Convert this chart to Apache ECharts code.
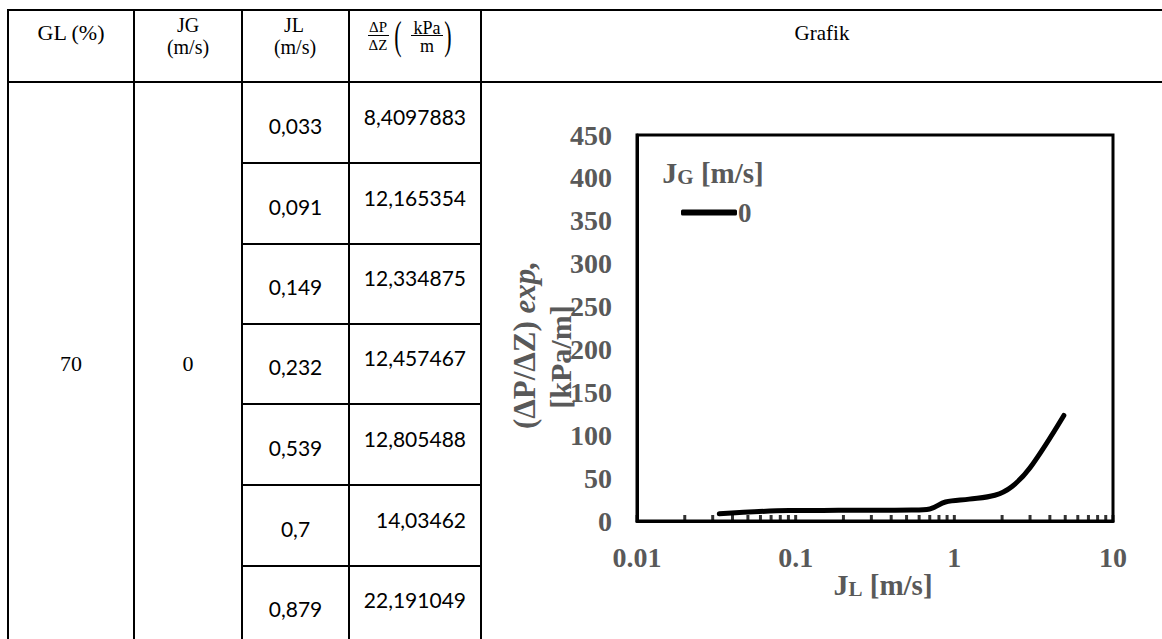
<!DOCTYPE html>
<html>
<head>
<meta charset="utf-8">
<script src="https://cdn.jsdelivr.net/npm/echarts@6/dist/echarts.min.js"></script>
<style>
  html, body { margin: 0; padding: 0; background: #fff; }
  #page { position: relative; width: 1162px; height: 639px; overflow: hidden; background: #fff; }
  .ln { position: absolute; background: #000; }
  .t { position: absolute; white-space: nowrap; line-height: 1; transform: translate(-50%, -50%); color: #000; }
  .tr { position: absolute; white-space: nowrap; line-height: 1; transform: translate(-100%, -50%); color: #000; }
  .serif { font-family: "Liberation Serif", "Times New Roman", serif; }
  .sans { font-family: Lato, "Open Sans", sans-serif; }
  #chart { position: absolute; left: 0; top: 0; width: 1162px; height: 639px; }
</style>
</head>
<body>
<div id="page">
  <div id="table"></div>
  <div id="chart"></div>
</div>
<script>
// Measurement series: liquid superficial velocity JL [m/s] and pressure gradient [kPa/m]
const glPercent = 70;
const jgValue = 0;
const jlValues = [0.033, 0.091, 0.149, 0.232, 0.539, 0.7, 0.879, 1.24, 1.8, 2.3, 3.0, 4.9];
const dpValues = [8.4097883, 12.165354, 12.334875, 12.457467, 12.805488, 14.03462, 22.191049, 25.5, 30, 40, 62, 123];
const tableRowCount = 7;

// Axis tick values
const yTickLabels = [0, 50, 100, 150, 200, 250, 300, 350, 400, 450];
const xTickValues = [
  0.01, 0.02, 0.03, 0.04, 0.05, 0.06, 0.07, 0.08, 0.09,
  0.1, 0.2, 0.3, 0.4, 0.5, 0.6, 0.7, 0.8, 0.9,
  1, 2, 3, 4, 5, 6, 7, 8, 9, 10
];
const seriesName = '0';

// ---------- table ----------
const table = document.getElementById('table');
const colX = [8, 134, 242, 349, 481];
const rowY = [82, 163, 244, 324, 404, 485, 566, 646];
const topY = 10;

function line(x, y, w, h) {
  const d = document.createElement('div');
  d.className = 'ln';
  d.style.left = x + 'px'; d.style.top = y + 'px';
  d.style.width = w + 'px'; d.style.height = h + 'px';
  table.appendChild(d);
}
function text(str, x, y, size, cls, extra) {
  const d = document.createElement('div');
  d.className = cls;
  d.textContent = str;
  d.style.left = x + 'px'; d.style.top = y + 'px';
  d.style.fontSize = size + 'px';
  if (extra) Object.assign(d.style, extra);
  table.appendChild(d);
  return d;
}

line(colX[0] - 1, topY - 1, 1162, 2);
line(colX[0] - 1, rowY[0] - 1, 1162, 2);
for (let i = 1; i < rowY.length; i++) line(colX[2] - 1, rowY[i] - 1, colX[4] - colX[2] + 1, 2);
colX.forEach(x => line(x - 1, topY - 1, 2, 700));

// header
text('GL (%)', 71, 33, 22, 't serif');
text('JG', 188, 25, 20, 't serif');
text('(m/s)', 188, 47, 20, 't serif');
text('JL', 294, 25, 20, 't serif');
text('(m/s)', 295, 47, 20, 't serif');
text('ΔP', 378, 27, 15, 't serif');
line(368, 35, 21, 1);
text('ΔZ', 378, 45, 15, 't serif');
text('(', 398, 36, 40, 't serif', { transform: 'translate(-50%,-50%) scaleX(0.55)' });
text('kPa', 427, 28, 18, 't serif');
line(411, 35, 32, 1);
text('m', 427, 46, 18, 't serif');
text(')', 448, 36, 40, 't serif', { transform: 'translate(-50%,-50%) scaleX(0.55)' });
text('Grafik', 822, 33, 21, 't serif');

// body
const bodyMid = (rowY[0] + rowY[rowY.length - 1]) / 2;
text(String(glPercent), 71, bodyMid, 22, 't serif');
text(String(jgValue), 188, bodyMid, 22, 't serif');
const fmt = v => String(v).replace('.', ',');
for (let i = 0; i < tableRowCount; i++) {
  const mid = (rowY[i] + rowY[i + 1]) / 2;
  text(fmt(jlValues[i]), 295.5, mid + 2, 21, 't sans');
  text(fmt(dpValues[i]), 466, mid - 7, 21, 'tr sans');
}

// ---------- chart ----------
const serif = '"Liberation Serif", "Times New Roman", serif';
const gray = '#595959';
const chart = echarts.init(document.getElementById('chart'), null, { renderer: 'svg' });

const seriesData = jlValues.map((x, i) => [x, dpValues[i]]);
const tickMarks = xTickValues.map(x => [x, 0]);

const titleRich = {
  j: { fontFamily: serif, fontWeight: 'bold', fontSize: 30, fill: gray, verticalAlign: 'bottom', lineHeight: 30 },
  s: { fontFamily: serif, fontWeight: 'bold', fontSize: 21, fill: gray, verticalAlign: 'bottom', lineHeight: 30 },
  n: { fontFamily: serif, fontWeight: 'bold', fontSize: 29, fill: gray, verticalAlign: 'bottom', lineHeight: 30 }
};

chart.setOption({
  animation: false,
  backgroundColor: 'transparent',
  grid: {
    left: 637, top: 135, width: 476, height: 386,
    show: true, borderColor: '#000', borderWidth: 3, backgroundColor: 'transparent'
  },
  legend: {
    data: [{ name: seriesName, icon: 'roundRect' }],
    left: 681, top: 199, padding: 0,
    itemWidth: 56, itemHeight: 6,
    selectedMode: false,
    textStyle: { fontFamily: serif, fontWeight: 'bold', fontSize: 27, color: gray, padding: [0, 0, 0, -4] }
  },
  xAxis: {
    type: 'log', logBase: 10, min: 0.01, max: 10,
    axisLine: { show: true, lineStyle: { color: '#000', width: 3 } },
    axisTick: { show: false },
    minorTick: { show: false },
    splitLine: { show: false },
    axisLabel: {
      showMinLabel: true, showMaxLabel: true,
      margin: 22,
      fontFamily: serif, fontWeight: 'bold', fontSize: 28, color: gray,
      formatter: v => String(Number(v.toPrecision(6)))
    }
  },
  yAxis: {
    type: 'value', min: 0, max: 450, interval: 50,
    axisLine: { show: true, lineStyle: { color: '#000', width: 3 } },
    axisTick: { show: false },
    splitLine: { show: false },
    axisLabel: {
      margin: 25,
      fontFamily: serif, fontWeight: 'bold', fontSize: 28, color: gray,
      formatter: v => (yTickLabels.includes(v) ? String(v) : '')
    }
  },
  graphic: [
    {
      type: 'text', x: 713, y: 172, z: 10,
      style: { text: '{j|J}{s|G}{n| [m/s]}', align: 'center', verticalAlign: 'middle', rich: titleRich }
    },
    {
      type: 'text', x: 883, y: 584, z: 10,
      style: { text: '{j|J}{s|L}{n| [m/s]}', align: 'center', verticalAlign: 'middle', rich: titleRich }
    },
    {
      type: 'text', x: 524, y: 345, rotation: Math.PI / 2, z: 10,
      style: {
        text: '{a|(ΔP/ΔZ) }{b|exp,}',
        align: 'center', verticalAlign: 'middle',
        rich: {
          a: { fontFamily: serif, fontWeight: 'bold', fontSize: 31, fill: gray },
          b: { fontFamily: serif, fontWeight: 'bold', fontStyle: 'italic', fontSize: 31, fill: gray }
        }
      }
    },
    {
      type: 'text', x: 560, y: 357, rotation: Math.PI / 2, z: 10,
      style: {
        text: '[kPa/m]',
        align: 'center', verticalAlign: 'middle',
        fontFamily: serif, fontWeight: 'bold', fontSize: 30, fill: gray
      }
    }
  ],
  series: [
    {
      name: seriesName,
      type: 'line',
      data: seriesData,
      smooth: 0.35,
      symbol: 'none',
      lineStyle: { color: '#000', width: 5, cap: 'round' },
      itemStyle: { color: '#000' },
      z: 3
    },
    {
      name: 'ticks',
      type: 'scatter',
      data: tickMarks,
      symbol: 'rect',
      symbolSize: [3, 6],
      symbolOffset: [0, -3],
      itemStyle: { color: '#000' },
      silent: true,
      clip: false,
      z: 4
    }
  ]
});
</script>
</body>
</html>
